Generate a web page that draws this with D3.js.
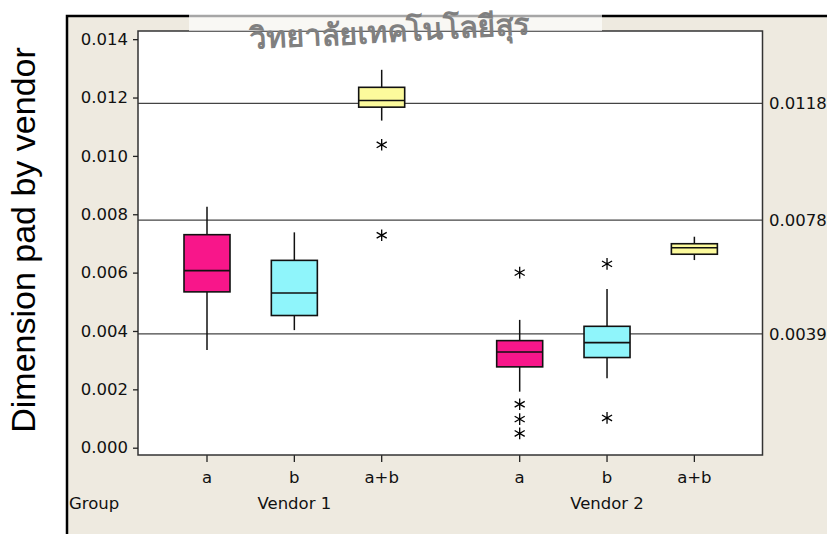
<!DOCTYPE html>
<html>
<head>
<meta charset="utf-8">
<script src="https://cdn.jsdelivr.net/npm/d3@7"></script>
<style>
  body { margin: 0; background: #fff; }
  svg { display: block; }
</style>
</head>
<body>
<div id="chart"></div>
<script>
// Boxplot of pad dimension by vendor / group
const vendors = ["Vendor 1", "Vendor 2"];
const groups = ["a", "b", "a+b"];
const fills = ["#F8168A", "#8FF5FB", "#FCFA9C"];

// stats per box, order: V1 a, V1 b, V1 a+b, V2 a, V2 b, V2 a+b
const whiskerLow  = [0.00335, 0.00403, 0.01121, 0.00192, 0.00238, 0.00643];
const q1          = [0.00534, 0.00453, 0.01167, 0.00277, 0.00309, 0.00663];
const median      = [0.00607, 0.00530, 0.01190, 0.00328, 0.00360, 0.00685];
const q3          = [0.00730, 0.00642, 0.01235, 0.00367, 0.00416, 0.00699];
const whiskerHigh = [0.00826, 0.00738, 0.01295, 0.00438, 0.00544, 0.00723];
const outliers    = [[], [], [0.01038, 0.00728], [0.00600, 0.00149, 0.00098, 0.00049], [0.00630, 0.00102], []];

const refLines = [0.0118, 0.0078, 0.0039];
const refLabels = ["0.0118", "0.0078", "0.0039"];
const yTicks = [0, 0.002, 0.004, 0.006, 0.008, 0.010, 0.012, 0.014];

const width = 827, height = 534;
const plot = { left: 138, top: 31, right: 762.5, bottom: 455 };
const groupGap = 0.58;
const boxHalf = 23;
const tickFont = "Tahoma, 'DejaVu Sans', sans-serif";
const tickSize = "16.5px";

const svg = d3.select("#chart").append("svg")
    .attr("width", width)
    .attr("height", height);

// outer beige frame
svg.append("rect")
    .attr("x", 66).attr("y", 15)
    .attr("width", width - 66).attr("height", height - 15)
    .attr("fill", "#EEEAE0");
svg.append("path")
    .attr("d", `M67,${height}V16H${width}`)
    .attr("fill", "none")
    .attr("stroke", "#000")
    .attr("stroke-width", 2.5);

// scales
const yScale = d3.scaleLinear()
    .domain([-0.00025, 0.01428])
    .range([plot.bottom, plot.top]);

const xScale = d3.scaleLinear()
    .domain([-0.79, 6.36])
    .range([plot.left, plot.right]);

const slot = (v, g) => v * (groups.length + groupGap) + g;

// plot background
svg.append("rect")
    .attr("x", plot.left).attr("y", plot.top)
    .attr("width", plot.right - plot.left).attr("height", plot.bottom - plot.top)
    .attr("fill", "#fff");

// reference lines
refLines.forEach((r, i) => {
    svg.append("line")
        .attr("x1", plot.left).attr("x2", plot.right)
        .attr("y1", yScale(r)).attr("y2", yScale(r))
        .attr("stroke", "#444")
        .attr("stroke-width", 1.3);
    svg.append("text")
        .attr("x", plot.right + 6.5)
        .attr("y", yScale(r))
        .attr("dy", "0.35em")
        .style("font-family", tickFont)
        .style("font-size", tickSize)
        .style("fill", "#111")
        .text(refLabels[i]);
});

// boxes
vendors.forEach((vendor, v) => {
    groups.forEach((grp, g) => {
        const k = v * groups.length + g;
        const cx = xScale(slot(v, g));
        const gBox = svg.append("g");

        gBox.append("line")
            .attr("x1", cx).attr("x2", cx)
            .attr("y1", yScale(whiskerHigh[k])).attr("y2", yScale(q3[k]))
            .attr("stroke", "#111").attr("stroke-width", 1.5);
        gBox.append("line")
            .attr("x1", cx).attr("x2", cx)
            .attr("y1", yScale(q1[k])).attr("y2", yScale(whiskerLow[k]))
            .attr("stroke", "#111").attr("stroke-width", 1.5);
        gBox.append("rect")
            .attr("x", cx - boxHalf)
            .attr("y", yScale(q3[k]))
            .attr("width", boxHalf * 2)
            .attr("height", yScale(q1[k]) - yScale(q3[k]))
            .attr("fill", fills[g])
            .attr("stroke", "#111")
            .attr("stroke-width", 1.6);
        gBox.append("line")
            .attr("x1", cx - boxHalf).attr("x2", cx + boxHalf)
            .attr("y1", yScale(median[k])).attr("y2", yScale(median[k]))
            .attr("stroke", "#111").attr("stroke-width", 1.6);

        outliers[k].forEach(o => {
            gBox.append("path")
                .attr("d", d3.symbol(d3.symbolAsterisk, 95)())
                .attr("transform", `translate(${cx},${yScale(o)})`)
                .attr("fill", "none")
                .attr("stroke", "#000")
                .attr("stroke-width", 1.3);
        });

        // x tick + label
        svg.append("line")
            .attr("x1", cx).attr("x2", cx)
            .attr("y1", plot.bottom).attr("y2", plot.bottom + 7)
            .attr("stroke", "#222").attr("stroke-width", 1.3);
        svg.append("text")
            .attr("x", cx).attr("y", 477)
            .attr("dy", "0.35em")
            .attr("text-anchor", "middle")
            .style("font-family", tickFont)
            .style("font-size", tickSize)
            .style("fill", "#111")
            .text(grp);
    });
    svg.append("text")
        .attr("x", xScale(slot(v, 1)))
        .attr("y", 503)
        .attr("dy", "0.35em")
        .attr("text-anchor", "middle")
        .style("font-family", tickFont)
        .style("font-size", tickSize)
        .style("fill", "#111")
        .text(vendor);
});

svg.append("text")
    .attr("x", 69).attr("y", 503)
    .attr("dy", "0.35em")
    .style("font-family", tickFont)
    .style("font-size", tickSize)
    .style("fill", "#111")
    .text("Group");

// plot border
svg.append("rect")
    .attr("x", plot.left).attr("y", plot.top)
    .attr("width", plot.right - plot.left).attr("height", plot.bottom - plot.top)
    .attr("fill", "none")
    .attr("stroke", "#333")
    .attr("stroke-width", 1.5);

// y axis
const yAxis = d3.axisLeft(yScale)
    .tickValues(yTicks)
    .tickFormat(d3.format(".3f"))
    .tickSize(5)
    .tickPadding(5);
const yAxisG = svg.append("g")
    .attr("transform", `translate(${plot.left},0)`)
    .call(yAxis);
yAxisG.select(".domain").remove();
yAxisG.selectAll(".tick line").attr("stroke", "#222").attr("stroke-width", 1.3);
yAxisG.selectAll(".tick text")
    .style("font-family", tickFont)
    .style("font-size", tickSize)
    .style("fill", "#111");

// y title
svg.append("text")
    .attr("transform", "translate(35,240) rotate(-90)")
    .attr("text-anchor", "middle")
    .style("font-family", "Arial, 'Liberation Sans', sans-serif")
    .style("font-size", "34px")
    .style("fill", "#000")
    .text("Dimension pad by vendor");

// watermark
svg.append("rect")
    .attr("x", 189).attr("y", 0)
    .attr("width", 413).attr("height", 31)
    .attr("fill", "#fff")
    .attr("opacity", 0.65);
svg.append("text")
    .attr("transform", "translate(390,42) rotate(-3)")
    .attr("text-anchor", "middle")
    .style("font-size", "30px")
    .style("font-weight", "bold")
    .style("fill", "#808080")
    .text("วิทยาลัยเทคโนโลยีสุร");
</script>
</body>
</html>
